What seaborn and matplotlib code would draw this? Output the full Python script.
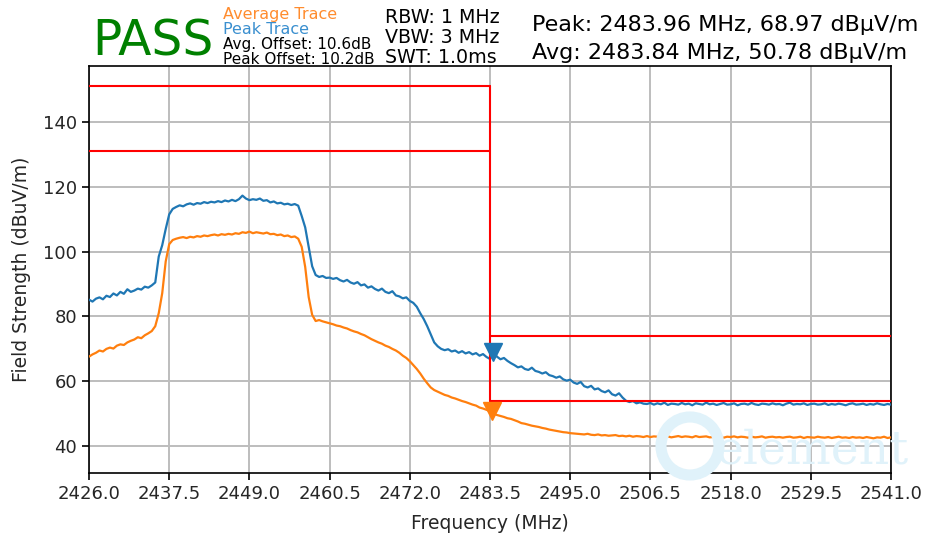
import numpy as np
import pandas as pd
import matplotlib
matplotlib.use("Agg")
import matplotlib.pyplot as plt
from matplotlib.patches import Ellipse
import seaborn as sns

# ---------------- data ----------------
f_start, f_stop, f_step = 2426.0, 2541.0, 0.5

peak_trace = [
    85.2, 84.6, 85.5, 85.9, 85.3, 86.4, 86.0, 87.1, 86.5, 87.6,
    87.0, 88.4, 87.6, 88.0, 88.6, 88.3, 89.2, 88.9, 89.6, 90.5,
    98.5, 102.0, 107.0, 111.5, 113.2, 113.8, 114.3, 114.0, 114.6, 114.9,
    114.5, 115.0, 114.8, 115.3, 115.0, 115.4, 115.2, 115.6, 115.3, 115.8,
    115.5, 116.0, 115.6, 116.2, 117.3, 116.4, 115.9, 116.2, 116.0, 116.4,
    115.7, 115.9, 115.2, 115.5, 114.9, 115.1, 114.6, 114.8, 114.4, 114.7,
    114.2, 111.0, 107.5, 101.5, 95.5, 92.8, 92.2, 92.5, 91.9, 92.0,
    91.6, 91.9, 91.2, 90.8, 91.3, 90.5, 90.1, 90.6, 89.6, 89.9,
    88.9, 89.3, 88.5, 88.0, 88.6, 87.6, 87.2, 87.8, 86.5, 86.2,
    85.6, 85.9, 84.8, 84.2, 83.0, 81.0, 79.2, 77.0, 74.5, 72.0,
    70.8, 70.0, 69.6, 69.9, 69.2, 69.5, 68.8, 69.3, 68.6, 69.0,
    68.3, 68.7, 67.9, 68.4, 67.5, 66.9, 68.9, 67.6, 66.8, 67.2,
    66.3, 65.6, 65.0, 64.3, 64.6, 63.8, 63.5, 64.2, 63.2, 62.9,
    62.4, 62.8, 61.9, 61.6, 61.1, 61.5, 60.6, 60.2, 60.5, 59.6,
    59.2, 59.8, 58.5, 58.1, 58.6, 57.5, 57.8, 57.0, 56.6, 57.2,
    56.0, 55.6, 56.3, 55.0, 54.0, 53.6, 53.9, 53.2, 53.5, 53.1,
    53.0, 53.3, 52.8, 53.2, 52.9, 53.4, 52.7, 53.1, 53.0, 52.8,
    53.3, 52.9, 53.1, 52.6, 53.2, 53.0, 52.8, 53.4, 52.9, 53.1,
    52.7, 53.0, 53.3, 52.8, 52.9, 53.2, 52.6, 53.0, 53.1, 52.8,
    53.3, 52.9, 52.7, 53.1, 53.0, 52.8, 53.2, 52.9, 53.0, 52.6,
    53.1, 53.4, 52.8, 53.0, 52.9, 53.2, 52.7, 53.0, 53.1, 52.8,
    52.9, 53.2, 52.7, 53.0, 52.8, 53.1, 52.9, 52.6, 53.0, 53.2,
    52.8, 52.9, 53.1, 52.7, 53.0, 52.8, 53.2, 52.9, 52.7, 53.0,
    52.8,
]

avg_trace = [
    67.6, 68.3, 68.8, 69.5, 69.2, 70.0, 70.4, 70.1, 71.0, 71.4,
    71.2, 72.0, 72.5, 72.9, 73.6, 73.3, 74.2, 74.8, 75.5, 77.0,
    81.0, 87.2, 97.0, 102.3, 103.6, 104.0, 104.3, 104.5, 104.2, 104.6,
    104.4, 104.8, 104.6, 105.0, 104.8, 105.1, 105.3, 105.0, 105.4, 105.2,
    105.5, 105.3, 105.7, 105.5, 106.0, 105.8, 106.2, 105.7, 106.0, 105.8,
    105.6, 105.9, 105.4, 105.5, 105.1, 105.3, 104.8, 105.0, 104.5, 104.7,
    104.0, 101.5, 95.3, 86.0, 80.5, 78.6, 78.9, 78.5, 78.2, 77.9,
    77.6, 77.2, 77.0, 76.6, 76.3, 75.8, 75.4, 75.1, 74.6, 74.2,
    73.6, 73.0, 72.5, 72.0, 71.6, 71.0, 70.6, 70.0, 69.5, 68.8,
    67.9, 67.2, 66.2, 65.0, 63.8, 62.4, 60.8, 59.4, 58.1, 57.3,
    56.8, 56.3, 55.8, 55.5, 55.0, 54.7, 54.3, 53.9, 53.6, 53.2,
    52.8, 52.5, 51.9, 51.6, 51.2, 50.8, 50.0, 49.6, 49.3, 49.0,
    48.6, 48.4, 48.0, 47.6, 47.1, 46.9, 46.6, 46.3, 46.1, 45.9,
    45.6, 45.4, 45.1, 44.9, 44.7, 44.5, 44.3, 44.2, 44.0, 43.9,
    43.8, 43.7, 43.6, 43.8, 43.5, 43.4, 43.6, 43.3, 43.4, 43.2,
    43.3, 43.4, 43.1, 43.2, 43.0, 43.2, 42.9, 43.1, 43.0, 42.8,
    43.1, 42.8, 43.0, 42.9, 43.2, 42.8, 43.0, 42.7, 42.9, 43.1,
    42.8, 43.0, 42.9, 42.7, 43.1, 42.8, 42.9, 43.0, 42.7, 42.8,
    43.0, 42.8, 42.6, 42.9, 42.8, 43.0, 42.7, 42.9, 42.8, 42.6,
    42.9, 42.7, 42.8, 43.0, 42.6, 42.8, 42.9, 42.7, 42.8, 42.6,
    42.8, 42.9, 42.6, 42.7, 42.9, 42.5, 42.8, 42.7, 42.6, 42.9,
    42.7, 42.6, 42.8, 42.5, 42.7, 42.9, 42.6, 42.7, 42.5, 42.8,
    42.6, 42.7, 42.5, 42.8, 42.6, 42.4, 42.7, 42.6, 42.9, 42.5,
    42.7,
]

# limit lines: (start MHz, stop MHz, level)
limit_f_start = [2426.0, 2426.0, 2483.5, 2483.5]
limit_f_stop = [2483.5, 2483.5, 2541.0, 2541.0]
limit_levels = [151.0, 131.0, 74.0, 54.0]
band_edge = 2483.5

peak_marker = (2483.96, 68.97)
avg_marker = (2483.84, 50.78)

x_ticks = [2426.0, 2437.5, 2449.0, 2460.5, 2472.0, 2483.5, 2495.0,
           2506.5, 2518.0, 2529.5, 2541.0]
y_ticks = [40, 60, 80, 100, 120, 140]

# ---------------- plot ----------------
sns.set_style("ticks")
plt.rcParams['font.family'] = ['DejaVu Sans']

BLUE = '#1f77b4'
ORANGE = '#ff7f0e'
W, H = 937, 537

freq = f_start + f_step * np.arange(len(peak_trace))
df = pd.DataFrame({
    'Frequency (MHz)': np.concatenate([freq, freq]),
    'Level': np.concatenate([peak_trace, avg_trace]),
    'Trace': ['Peak'] * len(peak_trace) + ['Average'] * len(avg_trace),
})

fig = plt.figure(figsize=(9.37, 5.37), dpi=100)
ax = fig.add_axes([89 / W, 1 - 473 / H, (891 - 89) / W, (473 - 66) / H])

# watermark (drawn first, behind data)
fig.patches.append(Ellipse((690 / W, 1 - 446 / H), 58 / W, 58 / H,
                           transform=fig.transFigure, facecolor='none',
                           edgecolor='#e0f2fa', linewidth=8, zorder=0.5))
fig.text(716 / W, 1 - 464 / H, 'element', fontsize=34, family='DejaVu Serif',
         color='#e0f2fa', zorder=0.5)
ax.patch.set_alpha(0)

sns.lineplot(data=df, x='Frequency (MHz)', y='Level', hue='Trace',
             palette={'Peak': BLUE, 'Average': ORANGE},
             hue_order=['Peak', 'Average'], linewidth=1.6, ax=ax, legend=False,
             zorder=3)

for fs, fe, lv in zip(limit_f_start, limit_f_stop, limit_levels):
    ax.plot([fs, fe], [lv, lv], color='red', linewidth=1.5, zorder=4)
ax.plot([band_edge, band_edge], [max(limit_levels), min(limit_levels)],
        color='red', linewidth=1.5, zorder=4)

ax.plot([peak_marker[0]], [peak_marker[1]], marker='v', color=BLUE,
        markersize=13, zorder=5, linestyle='none')
ax.plot([avg_marker[0]], [avg_marker[1]], marker='v', color=ORANGE,
        markersize=13, zorder=5, linestyle='none')

ax.set_xlim(2426.0, 2541.0)
ax.set_ylim(31.7, 157.3)
ax.set_xticks(x_ticks)
ax.set_xticklabels([f"{t:.1f}" for t in x_ticks])
ax.set_yticks(y_ticks)
ax.grid(True, color='#bdbdbd', linewidth=1.4)
ax.set_axisbelow(True)
for s in ax.spines.values():
    s.set_color('black')
    s.set_linewidth(1.2)
ax.tick_params(axis='both', labelsize=13, length=5, width=1.2, color='black',
               direction='out')
ax.set_xlabel('Frequency (MHz)', fontsize=13.5, labelpad=8)
ax.set_ylabel('Field Strength (dBuV/m)', fontsize=13.5, labelpad=9)

# header texts
fig.text(92 / W, 1 - 55 / H, 'PASS', color='#008000', fontsize=35)
fig.text(223 / W, 1 - 19 / H, 'Average Trace', color='#ff8c2e', fontsize=11.5)
fig.text(223 / W, 1 - 34 / H, 'Peak Trace', color='#3a8fcf', fontsize=11.5)
fig.text(223 / W, 1 - 49 / H, 'Avg. Offset: 10.6dB', color='black', fontsize=11)
fig.text(223 / W, 1 - 64 / H, 'Peak Offset: 10.2dB', color='black', fontsize=11)
fig.text(385 / W, 1 - 23 / H, 'RBW: 1 MHz', color='black', fontsize=13.7)
fig.text(385 / W, 1 - 43 / H, 'VBW: 3 MHz', color='black', fontsize=13.7)
fig.text(385 / W, 1 - 63 / H, 'SWT: 1.0ms', color='black', fontsize=13.7)
fig.text(532 / W, 1 - 31 / H,
         f'Peak: {peak_marker[0]:.2f} MHz, {peak_marker[1]:.2f} dBµV/m',
         color='black', fontsize=16)
fig.text(532 / W, 1 - 59 / H,
         f'Avg: {avg_marker[0]:.2f} MHz, {avg_marker[1]:.2f} dBµV/m',
         color='black', fontsize=16)

fig.savefig('out.png', dpi=100)
